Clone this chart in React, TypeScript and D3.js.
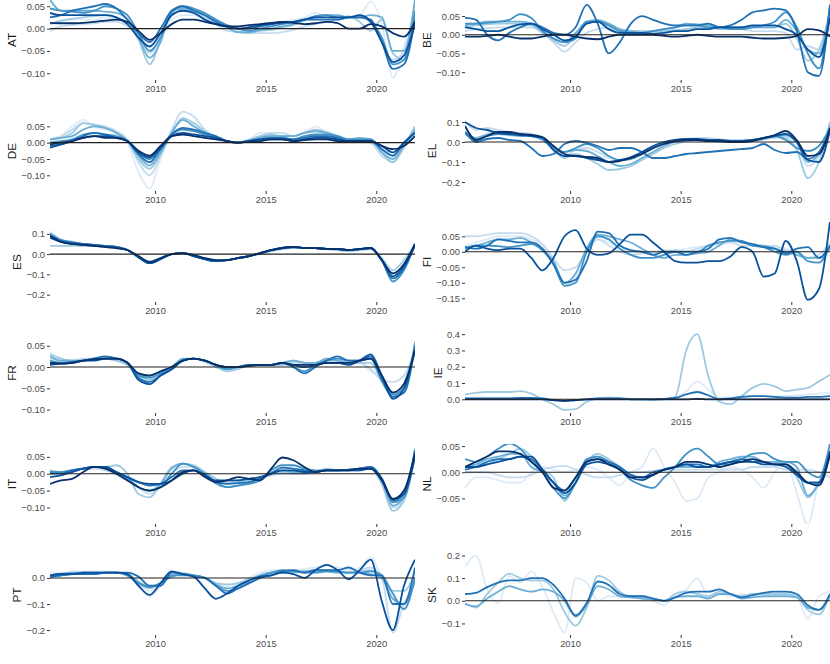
import React, { useEffect, useRef } from "react";
import * as d3 from "d3";

// half-year grid the series are read on
const PERIODS = [
  2005.25, 2005.75, 2006.25, 2006.75, 2007.25, 2007.75, 2008.25, 2008.75, 2009.25, 2009.75,
  2010.25, 2010.75, 2011.25, 2011.75, 2012.25, 2012.75, 2013.25, 2013.75, 2014.25, 2014.75,
  2015.25, 2015.75, 2016.25, 2016.75, 2017.25, 2017.75, 2018.25, 2018.75, 2019.25, 2019.75,
  2020.25, 2020.75, 2021.25, 2021.75,
];

const COUNTRIES = ["AT", "BE", "DE", "EL", "ES", "FI", "FR", "IE", "IT", "NL", "PT", "SK"];

// values are in hundredths; series 1 (lightest) .. 8 (darkest), null = not shown
const UNIT = 0.01;

const AT = [
  [1, 1.5, 2, 2, 2, 2.5, 2, 1, -1, -4, -2, 2, 3, 3, 2, 1, 0, -0.5, 0, 0.5, 1, 1.5, 2, 2.5, 3.5, 2.5, 2, 2.5, 3, 6, 1, -11, -4, 4],
  [-0.5, 0.5, 0.8, 1, 1.2, 1.5, 1.5, 0.5, -1.5, -5.5, -2, 3, 4, 3.5, 2.5, 1, -0.5, -0.8, -1, -1, -1, -0.8, -0.3, 0.5, 1, 1.5, 2, 2.5, 3, 1.5, -3, -7, -5, 3],
  [1, 1.8, 2.2, 2.5, 2.8, 3, 2.5, 1, -2.5, -8, -2.5, 4, 4.5, 3.8, 3, 1.8, 0.3, -0.8, -1, -0.5, -0.3, 0.3, 0.8, 1.8, 2.8, 3, 2, 2.8, 1.5, -0.5, 2, -5.5, -7, 3],
  [6.5, 4, 4, 4, 4, 3.8, 3.5, 2, -2, -6.5, -3, 4, 4.5, 4.2, 3, 1.5, 0.3, -0.8, -0.8, -0.3, 0, 0.5, 1, 2, 2.5, 3, 3, 2.5, 2.5, 3, 2.5, -5, -5, 6.5],
  [4.5, 4, 3.8, 3.5, 4, 5, 4.5, 3, -1, -5, -2, 3.5, 5, 4.5, 3.5, 2, 0.8, 0, -0.5, 0, 0.5, 1, 1.5, 2, 2.8, 3, 2.5, 2.5, 2.5, 1.5, -2, -8, -7, 4],
  [2.5, 3, 4, 4.5, 5, 5.5, 4.5, 2, -1, -3, 0, 4, 5, 4, 3, 1.5, 0.5, 0, 0, 0.5, 1, 1.5, 1.5, 2, 2, 2, 2, 2.5, 2.5, 2, -3, -9, -8, 2],
  [3.5, 3, 3, 3, 3, 3, 2.5, 1, -2, -4, -1, 3, 4, 3.5, 2, 1, 0.5, 0, 0.3, 0.8, 1, 1.3, 1.5, 2, 2.5, 2.5, 2.5, 2.5, 3, 1.5, -3, -7.5, -6, 1],
  [1.3, 1.2, 1.2, 1.3, 1.5, 1.8, 2, 1.5, -0.5, -2.5, -1, 1, 2, 2, 1.5, 1, 0.5, 0.5, 0.8, 1, 1.3, 1.5, 1.3, 1, 1.2, 1.5, 1.2, 0, 0, 1, 0.5, -1, -1.8, 1.5],
];

const BE = [
  null,
  [1, 1.5, 1.8, 2, 2, 2, 2, 0.5, -2, -4.5, -2, 0.5, 1.5, 2, 1, 1, 1, 1, 1, 1.2, 1.5, 1.8, 2, 2, 2, 1.5, 1, 1, 1, 0.5, -4, -3, -4, 2],
  [2, 2.5, 2.8, 3, 3, 3, 2.5, 0.5, -1.5, -3, 0, 3, 3.5, 2.5, 1, 1, 1, 1, 1, 1.2, 1.5, 2, 2, 1.5, 1.5, 2, 2, 2, 2, 3, -1, -7, -4, 6],
  [2.5, 3, 3.5, 3.5, 3.5, 3.5, 3, 1, -1, -2, 0.5, 3.5, 4, 3, 1.5, 1, 0.5, 1, 1.5, 2, 3, 2.8, 2.5, 2, 2, 2, 2, 2, 2, 4, 1, -4, -5, 7],
  [3, 3, 3.2, 3.5, 4, 5.5, 4.5, 1, -1, -2, -1, 3.5, 3.5, 2.5, 1, 0.5, 0.5, 1, 1.5, 2, 2.5, 2.5, 2, 2, 1.5, 1.5, 2, 2.5, 3.5, 6, 2, -5, -9, 8],
  [4.5, 4, 0, -1.5, 0.5, 2, 3, 2, 0.5, 0, 2, 8, 3, -5, -2, 3, 5, 4, 3, 2.5, 2.5, 2.5, 3, 2, 2.5, 4, 6, 6.5, 7, 6.5, 1, -10, -11, 8],
  [2, 1.5, 1, 1, 2, 2.8, 3, 1.5, 0, -1.5, -0.5, 3, 3.5, 1.5, 0.5, 0.5, 0.5, 0.3, 0.5, 1, 1, 1.5, 1.5, 2, 2, 2, 2.5, 2.5, 2.5, 1.5, 0, -4, -6, 4.5],
  [-0.5, -0.5, -0.3, 0, -0.5, -1, -1, -0.5, 0, 0, -0.5, -1, -1.2, -0.5, 0, 0, 0, 0, -0.3, -0.5, -0.3, 0, -0.3, -0.5, -0.5, -0.5, -0.8, -1, -1, -0.8, -0.3, 1.5, 1.2, -0.5],
];

const DE = [
  [0, 2, 5, 7, 5, 4, 3, 0, -9, -14, -5, 3, 7, 6, 3, 1, 0, 0, 1, 3, 3, 3, 2, 3, 5, 3, 2, 1, 1, 0, -4, -6, -2, 4],
  [1, 2, 4, 6, 5.5, 5, 3.5, 1, -6, -10, -4, 4, 9.5, 8, 4, 1.5, 0.5, 0, 1, 2, 3, 3, 2, 3, 4, 3.5, 2, 1, 1, 0, -4, -6, -1, 5],
  [1, 1.5, 3, 6, 5.5, 4.5, 3, 0.5, -5, -8, -3.5, 3, 7.5, 6, 3.5, 1.5, 0.5, 0, 0.8, 2, 2.5, 2, 2, 3, 4, 3, 2, 1, 1, 0.5, -3, -6, -1, 5],
  [1, 1.5, 2, 4, 5, 4.5, 3, 0.5, -4, -7, -3, 3, 7, 5, 3, 1.5, 0.5, 0, 0.8, 1.5, 2, 2, 2, 3, 3.5, 3, 2, 1, 1.5, 1, -3, -5, -1, 4],
  [0, 0.5, 1, 2.5, 3, 2.5, 2, 0.5, -3, -5, -2, 2.5, 4, 3.5, 2.5, 1.5, 0.5, 0, 0.5, 1, 1.5, 1.5, 1, 2, 2.5, 2.5, 2, 1, 1, 1, -2, -4, 0, 3],
  [-1, -0.5, 0.5, 2, 3, 2.5, 1.5, 0.5, -3.5, -6, -2, 2.5, 4.5, 4, 3, 2, 0.5, 0, 0.5, 1, 1.5, 1.5, 1, 1.5, 2, 2, 1.5, 0.5, 0.5, 0.5, -2, -4, 0, 3],
  [-1.5, -0.5, 0.5, 1.5, 2, 2, 1.5, 0.5, -3, -4.5, -1.5, 2, 3, 2.5, 2, 1.5, 0.5, 0, 0.5, 1, 1, 1, 0.5, 1, 1.5, 1.5, 1, 0.5, 0.5, 0.5, -1, -3, 0, 3],
  [-0.5, 0, 0.5, 1.5, 2, 1.5, 1.5, 0.5, -2.5, -4, -1, 2, 2.5, 2, 1.5, 1, 0.5, 0, 0.3, 0.5, 1, 1, 0.5, 0.8, 1, 1, 0.5, 0.5, 0.5, 0.5, -1, -2, -1, 2],
];

const EL = [
  null,
  [10, 6, 7, 6, 5, 4.5, 4, 2, -3, -7, -4, -3, -5, -8, -9, -8, -6, -3.5, -1.5, 0.5, 1.5, 2, 2, 1.5, 1, 1, 1, 1.5, 2, 3, -1, -12, -7, 10],
  [5, 2, 4, 5, 4, 3.5, 3, 1, -4, -8, -6, -8, -11, -14, -13.5, -12, -9, -6, -3, -1, 0.5, 1, 0.5, 0, 0, 0.5, 1, 1.5, 2.5, 2, -4, -18, -10, 10],
  [4, 2, 3.5, 4, 3.5, 3, 3, 1, -3, -5, -4, -4.5, -7, -10, -12, -11, -8, -5, -2, 0, 1, 1, 1, 0.5, 0, 0.5, 1, 1.5, 3, 3.5, 0, -10, -6, 8],
  [5, 1, 3, 4, 4, 3.5, 3.5, 2, -2.5, -5, -3, -1, -3, -7, -9, -8.5, -6, -3, -0.5, 0.5, 1, 1, 1, 0.5, 0.5, 0.5, 1, 2, 3, 1, -3, -4.5, -2, 7],
  [5, 0, 1.5, 2, 1, 0.5, -3, -7, -6, -1, 0.5, -0.5, -2, -4, -3, -3, -5, -8, -8, -7, -6, -5.5, -5, -4.5, -4, -3.5, -3, -1, -4, -5.5, -5, -8.5, -5, 5],
  [10, 7, 6, 4.5, 4, 3.5, 3, 2, -4, -7, -7, -8, -9, -10, -9, -7.5, -5, -2, 0, 1, 1.5, 1.5, 1, 1, 0.5, 0.5, 1, 2, 3, 4, 0, -9, -10, 6],
  [8, 1, 3, 5, 5, 4, 3.5, 2.5, -2, -6, -7, -7.5, -8, -10, -9.5, -8, -6, -3, -1, 0.5, 1, 1, 0.5, 0.5, 0, 0, 0.5, 2, 3.5, 5.5, 1, -7, -6, 7],
];

const ES = [
  null,
  [11, 7, 5.5, 5, 4.5, 4, 3.5, 2, -1.5, -4, -2, 0, 0.5, -0.5, -2.5, -3.5, -3, -2, -1, 0.5, 2, 3, 3.5, 3, 3, 2.5, 2, 1.5, 2, 2.5, -3, -10, -5, 5],
  [4, 4, 4, 4, 4, 3.8, 3.5, 2, -1, -3.5, -2, 0, 0.5, -0.5, -2, -3, -3, -2, -1, 0, 1.5, 2.5, 3, 3, 3, 2.5, 2, 1.5, 2, 2.5, -2, -8, -3, 5],
  null,
  [10, 7, 6, 5, 4.5, 4, 3.5, 2, -1.5, -4, -2, 0, 0.5, -1, -2.5, -3.5, -3, -2, -1, 0.5, 2, 3, 3.5, 3, 3, 2.5, 2.5, 2, 2.5, 3, -3, -13.5, -8, 5],
  [9, 6.5, 5.5, 5, 4.5, 4, 3.5, 2, -1.5, -4.5, -2.5, 0, 0.5, -1, -2.5, -3.5, -3, -2, -1, 0.5, 2, 3, 3.5, 3, 3, 2.5, 2.5, 2, 2.5, 3, -3, -12, -7, 5],
  [8, 6, 5, 4.5, 4, 3.5, 3, 2, -1.5, -4.5, -2.5, 0, 0.5, -1, -2.5, -3.5, -3, -2, -1, 0.5, 2, 3, 3.5, 3, 3, 2.5, 2.5, 2, 2.5, 3, -3, -11, -6, 4],
  [9, 6, 5, 4.5, 4, 3.5, 3, 2, -1, -4, -2, 0, 0.5, -0.5, -2, -3, -3, -2, -1, 0.5, 2, 3, 3.5, 3, 3, 2.5, 2.5, 2, 2.5, 3, -3, -9.5, -5, 5],
];

const FI = [
  [2, 3, 4, 5, 5, 5, 4, 2, -4, -10, -8, 0, 4, 3, 1, 0, 0, 0, 0.5, 0.5, 1, 1.5, 2, 2.5, 3, 3, 2.5, 2, 1.5, 1, 0, -2, -2, -1],
  [5, 5, 5.5, 6, 6, 6, 5, 2.5, -2, -6, -5, 0, 4, 2, 0, -1, -0.5, 0, 0, 0.5, 0, 1, 2, 2.5, 3, 2, 2, 1.5, 2, 0.5, 0, -2, -1, 3],
  null,
  [1.5, 2, 3, 4, 4, 4.5, 3, 0.5, -3, -10, -7, 1, 5.5, 5, 4, 3, 1, -1, -2, -1, -1, -0.5, 0, 2, 4, 3.5, 2, 2, 1, 0, -1, -2, -2, 1],
  [1, 2, 2, 1.8, 1.5, 2, 2.5, 0.5, -4, -11, -10, 0, 5, 4, 1, -1, -2, -2, -1, 0, 0, 0, 2, 3, 3.5, 3.5, 2, 1.5, 0, -1, 0, -3, -3.5, 2],
  [1.5, 1, 2, 4, 3.5, 3, 3, 1, -4, -10, -9, -3, 6.5, 6, 2, 0.5, 0, -1, 0, 0, -1, 0, 1, 4, 4.5, 3, 2.5, 1.5, 1, -0.5, 1, 1.5, -2, 2],
  [0, 2, 1, 0.5, 1, 1, -2, -6, -2, 5, 7, 1, -1, -0.5, 2.5, 5.5, 5.5, 3, 0, -3, -3.5, -3.5, -3, -3, -1.5, 1.5, 0, -8, -7, 3.5, -3, -15.5, -12, 10],
  null,
];

const FR = [
  [3.5, 2, 1.5, 1.5, 2, 2, 1.5, 0.5, -2, -2.5, -1.5, -0.3, 1.5, 2, 1, 0, -0.5, 0, 0.5, 0.5, 0.5, 0.5, 0.5, 0.5, 1, 1, 1, 1, 1, -1, -3, -7, -5, 4],
  [2, 1.5, 1.5, 2, 2, 2, 1.5, 0.5, -1.5, -2.5, -1.5, 0, 1.5, 2, 1.5, 0, -0.5, 0, 0.5, 0.5, 0.5, 0.5, 1, 1, 1, 1.5, 1.5, 1, 1, -0.5, -3, -3.5, -2, 4],
  [3, 2, 1.5, 1.5, 2, 2, 1.5, 0.5, -2, -3, -2, 0, 1.5, 2, 1.5, 0, -1, -0.5, 0.5, 0.5, 0.5, 0.5, 1.5, 1, 1, 1.5, 1.5, 1, 1, 1, -3.5, -7, -4, 5],
  [2.5, 1.5, 1.5, 1.5, 2, 2, 2, 1, -1.5, -2, -1, 0, 2, 2, 1.5, 0.5, -0.5, 0, 0.5, 0.5, 0.5, 1, 1.5, 1, 1, 2, 1.5, 1, 1.5, 2, -3, -6, -6, 6],
  [1.5, 1, 1, 1.5, 2, 2, 2, 1, -2, -2.5, -1.5, 0, 1.5, 2, 1.5, 0.5, -0.5, 0, 0.5, 0.5, 0.5, 1, 0, -1, 0.5, 1.5, 2, 1.5, 1.5, 2, -3, -6.5, -5, 5],
  [1, 1, 1.2, 1.5, 2, 2.5, 2, 1, -2.5, -3.5, -2, -0.5, 1.5, 2, 1.5, 0.5, 0, 0, 0.5, 0.5, 0.5, 1, 0, -1.5, 0, 1.5, 2.5, 1.5, 1.5, 2.5, -3, -7, -6, 5],
  [0.5, 0.8, 1, 1.5, 1.5, 2, 2, 1, -3, -4, -2, -0.5, 1.5, 2, 1.5, 0.5, 0, 0, 0.3, 0.5, 0.5, 1, 0.5, 0, 0.5, 1, 1, 0.5, 1.5, 3, -2, -7.5, -5, 4],
  [1, 0.8, 1, 1.5, 1.8, 2, 2, 1, -1.5, -2, -1, 0, 1.5, 2, 1.5, 0.5, 0, 0, 0.3, 0.5, 0.5, 1, 0.5, 0.5, 0.5, 1, 1, 1, 1.5, 2, -2, -6, -4, 4],
];

const IE = [
  [1, 1, 1, 1, 1, 1, 1, 0.5, 0, -0.5, -0.5, 0, 0.5, 1, 1, 0.5, 0, 0, 0, 1, 5, 11, 6, 1, 1, 1.5, 2, 2, 2, 2, 2.5, 3, 3.5, 4],
  null,
  [3, 4, 4.5, 4.5, 4.5, 5, 3.5, 0, -3, -6.5, -6, -1.5, 0.5, 1, 0.5, 0, 0, -0.5, 0, 1.5, 30, 40, 14, -1.5, -3, 2, 7, 9.5, 8, 5, 6, 7, 11, 15],
  null,
  null,
  [0.5, 0.5, 0.5, 0.5, 0.5, 0.8, 0.8, 0.5, -0.5, -1, -0.5, 0, 0.5, 0.5, 0.5, 0, 0, 0, 0.3, 0.8, 3, 4.5, 2.5, 0, 0.5, 1.5, 2, 2, 1.5, 1, 1, 1.5, 1.5, 2],
  null,
  [0, 0, 0, 0, 0, 0, 0, 0, -0.5, -1, -0.5, 0, 0, 0, 0, 0, 0, 0, 0, 0, 0, 0.3, 0, 0, 0, 0, 0, 0, 0, 0, 0, 0, 0, 0],
];

const IT = [
  null,
  [1, 0.5, 1, 1.5, 1.5, 1, 0, -1.5, -4, -6, -4, 0, 2, 2, 0, -1.5, -2.5, -2, -1.5, -1, -0.5, 0, 0, 0, 0.5, 1, 1, 1, 1.5, 1.5, -3, -10, -8, 6],
  [1, 0.5, 1, 1.5, 2, 2, 2.5, 0, -6, -7, -3, 2, 3, 2.5, 0.5, -1.5, -3, -2.5, -2, -1, 0, 0.5, 0, 0, 0.5, 1.5, 1, 1, 1.5, 1.5, -3, -11, -8, 7.5],
  [0, 0.5, 1, 1.5, 2, 1.5, 0, -1.5, -4, -5, -3, 1.5, 3, 2, 0, -3, -4, -3.5, -2.5, -1.5, 0.5, 1, 0.5, 0.5, 0.5, 1, 1, 1, 1, 2, -2, -9.5, -7, 7],
  [0.5, 0.5, 1, 1.5, 2, 2, 0, -1.5, -4, -5, -4, 0, 3, 2, 0, -2.5, -4, -3.5, -3, -2, 1, 2.5, 2.5, 1.5, 1, 1, 1, 1.2, 1.5, 2, -1.5, -8.5, -7, 6],
  [0, 0, 1, 1.5, 2, 2, 0.5, -1, -2.5, -3.5, -3, -1, 1, 1, -0.5, -2.5, -3, -2.8, -2.5, -1.5, 0, 1.8, 1.5, 1, 0.5, 1, 1, 1.2, 1.5, 2, -1.5, -8, -6, 7],
  [-1, -0.5, 0.5, 1.5, 2, 2, 0.5, -1, -2.5, -3, -3, -2, 0, 1, -0.5, -2, -2, -2, -1.5, -1, 0, 1, 1, 0.5, 0.5, 1, 1, 1, 1, 1.5, -1.5, -7.5, -6, 5],
  [-3, -2, -1.5, 0.5, 2, 1.5, 0, -2, -4, -5, -4, -2, 0.5, 1, -1, -2.5, -2, -1, -1.5, -2, 1.5, 4.8, 4, 2, 0.5, 1, 1, 1, 1.5, 1.5, -2, -7.5, -5, 6],
];

const NL = [
  [-3, -1, -1, -1.5, -2, -2, 0, 1, 0.5, 0, 0.5, 1, 0.5, -1, -2.5, 0, 1, 4.5, 1, -2, -5.5, -5, -1, 0, 1, 0.5, -1, -3, 0, 2, -4, -10, -2, 0],
  [0, 0, 0, -0.5, -1, -1, -0.5, 0.5, 1, 1.2, 0.5, -0.5, -1, -1, -0.5, 0, 0, 0.3, 0.5, 0.5, 0.5, 0.5, 0.5, 0.5, 0.5, 0.5, 1, 1, 1, 0.5, 0.5, 0.5, 0, -1],
  [1, 1, 1.5, 2.5, 3.5, 4.5, 3, 0.5, -1, -5.5, -2, 2, 3.5, 2.5, 1, -0.5, -1, -0.5, 0.5, 1, 1, 1, 1, 1.5, 2, 2.5, 2.5, 2, 2, 1.5, -1, -4.8, -2, 3],
  [1, 1.5, 2.5, 3, 3.5, 3.5, 1, 0, -2, -4.5, -2, 2, 3, 2, 1, -0.5, -1, -0.5, 0.5, 1, 1, 1, 1, 2, 2.5, 3, 3, 2, 2, 2, 1, -4.5, -2, 3],
  [2.5, 2, 3, 4.5, 5.5, 4.5, 2, 0, -3, -5, -2, 2.5, 3, 2, 0.5, -1.5, -2.5, -3, -1, 1, 3.5, 4.5, 3, 1.5, 1.5, 2.5, 3.5, 3.7, 2.5, 2, 2, 0, -1, 5.5],
  [0.5, 1, 2, 2.5, 2.5, 3, 2.5, 0.5, -2, -3.5, -1, 2, 2.5, 2, 1, -0.5, -1, 0, 0.5, 1, 1.5, 1.5, 1, 1.5, 2, 2.5, 2, 2, 1.5, 1.5, -0.5, -2, -2, 4],
  [1, 1, 1.5, 2, 2.5, 3, 3, 0.5, -2, -4, -2, 1.5, 2, 1.5, 0.5, -1, -1.5, -0.5, 0.5, 1, 1.5, 1, 1, 1.5, 2, 2, 2, 1.5, 1.5, 1, -0.5, -2, -2, 4],
  [1, 2, 3, 4, 4, 3.5, 2, 0, -3, -3.5, -1, 2, 2.5, 1.5, 0.5, -1, -1, -0.5, 0.5, 1, 2, 2, 1.5, 1, 1.5, 2, 2.5, 2, 1.5, 1.5, 0, -2, -2.5, 3.5],
];

const PT = [
  [2, 2, 2.5, 2.5, 2.5, 2.5, 2, 1, -2, -5, -2, 1, 1.5, 1, 0, -2, -3, -2, 0, 2, 3, 3, 3, 3.5, 4, 4.5, 4, 3, 4, 8, 0, -8, -12, 0],
  [1, 1.5, 2, 2, 2, 2, 2, 1, -3, -7, -3, 1, 2, 1, 0, -3, -4, -3, -1, 1, 2, 2, 2, 2.5, 3, 3, 2.5, 2, 3, 4, 0, -21, -10, -2],
  [0, 1, 1.5, 2, 2, 2, 2, 1, -2, -4, -2, 0.5, 1.5, 1, 0, -2, -2.5, -2, -0.5, 1, 2, 2, 2, 2.5, 3, 3, 2.5, 2, 2.5, 3, 0, -5, -5, 2],
  [1, 1.5, 2, 2, 2, 2, 2, 1.5, -1.5, -3.5, -2, 0.5, 1.5, 1, 0, -2.5, -4, -3, -1, 1, 2, 2.5, 2.5, 2.5, 2.5, 2.5, 2, 2, 2, 1.5, 0, -8, -10, -1],
  [0.5, 1, 1.5, 1.5, 1.5, 2, 2, 1, -2, -3.5, -2, 1, 1, 1, 0, -3, -5, -4, -2, 0, 2, 3, 2.5, 2, 2, 2.5, 2.5, 2, 2, 2.5, 1, -6, -12, 0],
  [0.5, 1, 1.5, 1.5, 1.5, 2, 2, 2, 0.5, -3, -3, 2, 1.5, 0.5, 0, -3, -6, -4, -2, 0, 1, 2.5, 3, 2, 3, 3, 3, 4, 2, 1, 1, -10, -10, 4],
  [1, 1.5, 1.5, 2, 2, 2, 2, 1.5, -3, -6.5, -2, 2.5, 1.5, 0.5, -4, -8, -6, -3, -1, 0.5, 1, 2, 1.5, 0, 3, 5, 3, -0.5, 3, 7, -9, -20, -3, 7],
  null,
];

const SK = [
  [15, 20, 5, -1, 11, 8, 13, 6, -5, -14, 10, 8, 0, 2, 2, 2, 1, 0, -2, 3, 5, 10, 2, 3, 2, 3, 2, 3, 3, 4, 2, -8, 2, 4],
  null,
  [-1, -3, 3, 8, 12, 10, 9, 9, 5, -5, -11, -3, 11, 9, 4, 2, 2, 1, 0, 3, 4, 3, 2, 4, 3, 2, 3, 3, 3, 3, 2, -4, -6, 3],
  [-1.5, -2.5, 1, 4, 6.5, 5, 4, 5, 4, 0, -7, -2, 6.5, 5, 2, 1.5, 1, 0.5, 0, 1.5, 2, 2, 1, 3, 3, 1, 1.5, 2, 2, 2, 1.5, -3, -4, 2],
  null,
  [3, 3.5, 6, 8, 9, 9, 10, 10, 7, 1, -6.5, -1, 8.5, 7, 3, 2, 2, 1, 0, 1.5, 3.5, 4, 4, 5, 3, 1.5, 2.5, 3.5, 4, 4, 3, -2, -4, 3],
  null,
  null,
];

const SERIES: Record<string, (number[] | null)[]> = { AT, BE, DE, EL, ES, FI, FR, IE, IT, NL, PT, SK };

// free y range per panel [min, max] and tick step
const Y_LIMITS: [number, number][] = [
  [-0.115, 0.064], [-0.121, 0.093],
  [-0.148, 0.097], [-0.245, 0.155],
  [-0.236, 0.158], [-0.162, 0.096],
  [-0.108, 0.08], [-0.084, 0.407],
  [-0.149, 0.088], [-0.099, 0.054],
  [-0.219, 0.088], [-0.151, 0.202],
];
const Y_STEPS = [0.05, 0.05, 0.05, 0.1, 0.1, 0.05, 0.05, 0.1, 0.05, 0.05, 0.1, 0.1];
const X_BREAKS = [2010, 2015, 2020];

const SHADES = d3.schemeBlues[9].slice(1);

const App: React.FC = () => {
  const svgRef = useRef<SVGSVGElement>(null);

  useEffect(() => {
    if (!svgRef.current) return;
    const svg = d3.select(svgRef.current);
    svg.selectAll("*").remove();

    const rowHeight = 111;
    const panelHeight = 80;
    const panelWidth = 365;
    const colLeft = [50, 465];
    const font = "'Liberation Sans', Arial, Helvetica, sans-serif";
    const defs = svg.append("defs");

    COUNTRIES.forEach((country, i) => {
      const left = colLeft[i % 2];
      const top = Math.floor(i / 2) * rowHeight;
      const [lo, hi] = Y_LIMITS[i];
      const step = Y_STEPS[i];

      const x = d3
        .scaleLinear()
        .domain([PERIODS[0], PERIODS[PERIODS.length - 1]])
        .range([left, left + panelWidth]);
      const y = d3.scaleLinear().domain([lo, hi]).range([top + panelHeight, top]);

      const clipId = `clip-${country}`;
      defs
        .append("clipPath")
        .attr("id", clipId)
        .append("rect")
        .attr("x", left)
        .attr("y", top)
        .attr("width", panelWidth)
        .attr("height", panelHeight);

      const g = svg.append("g");

      const line = d3
        .line<number>()
        .x((_, j) => x(PERIODS[j]))
        .y((v) => y(v * UNIT))
        .curve(d3.curveMonotoneX);

      const series = SERIES[country]
        .map((values, k) => ({ values, k }))
        .filter((s) => s.values !== null);

      g.append("g")
        .attr("clip-path", `url(#${clipId})`)
        .selectAll("path")
        .data(series)
        .enter()
        .append("path")
        .attr("d", (s) => line(s.values as number[]))
        .attr("fill", "none")
        .attr("stroke", (s) => SHADES[s.k])
        .attr("stroke-width", 1.8)
        .attr("stroke-linejoin", "round");

      g.append("line")
        .attr("x1", left)
        .attr("x2", left + panelWidth)
        .attr("y1", y(0))
        .attr("y2", y(0))
        .attr("stroke", "#222")
        .attr("stroke-width", 1.1);

      const ticks = d3
        .range(Math.ceil(lo / step - 1e-9), Math.floor(hi / step + 1e-9) + 1)
        .map((n) => n * step + 0);

      const yAxis = g
        .append("g")
        .attr("transform", `translate(${left},0)`)
        .call(
          d3
            .axisLeft(y)
            .tickValues(ticks)
            .tickSize(3)
            .tickPadding(2)
            .tickFormat(d3.format(step < 0.1 ? ".2f" : ".1f") as any)
        );
      yAxis.select(".domain").remove();
      yAxis.selectAll("line").attr("stroke", "#333");
      yAxis.attr("font-size", 9.4).attr("font-family", font);
      yAxis.selectAll("text").attr("fill", "#4d4d4d");

      const xAxis = g
        .append("g")
        .attr("transform", `translate(0,${top + panelHeight})`)
        .call(
          d3
            .axisBottom(x)
            .tickValues(X_BREAKS)
            .tickSize(3)
            .tickPadding(2.5)
            .tickFormat(d3.format("d") as any)
        );
      xAxis.select(".domain").remove();
      xAxis.selectAll("line").attr("stroke", "#333");
      xAxis.attr("font-size", 9.4).attr("font-family", font);
      xAxis.selectAll("text").attr("fill", "#4d4d4d");

      // strip label sits just outside the tick labels (bbox is in the axis' own frame)
      const box = (yAxis.node() as SVGGElement).getBBox();
      g.append("text")
        .attr("transform", `translate(${left + box.x - 9.5},${top + panelHeight / 2}) rotate(-90)`)
        .attr("text-anchor", "middle")
        .attr("dy", "0.35em")
        .attr("font-family", font)
        .attr("font-size", 11.8)
        .attr("fill", "#1a1a1a")
        .text(country);
    });
  }, []);

  return (
    <svg
      ref={svgRef}
      width={830}
      height={664}
      style={{ position: "absolute", left: 0, top: 0, background: "#fff" }}
    />
  );
};

export default App;
